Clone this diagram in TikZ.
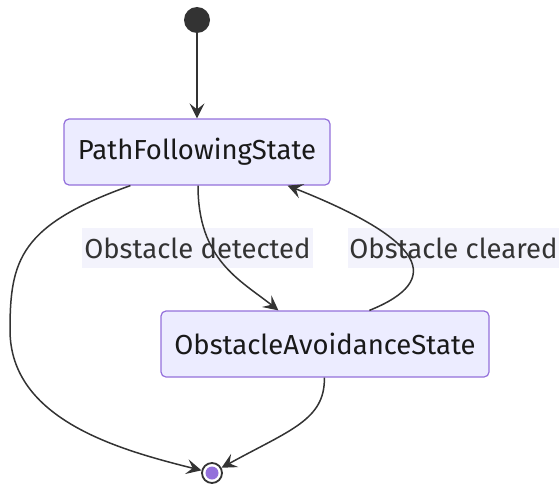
\documentclass[tikz,border=0pt]{standalone}
\usepackage{fontspec}
\setmainfont{Fira Sans}
\usepackage{xcolor}
\usetikzlibrary{arrows.meta,positioning,calc}

\definecolor{stfill}{HTML}{ECECFF}
\definecolor{stline}{HTML}{9370DB}
\definecolor{edgec}{HTML}{333333}
\definecolor{lblfill}{HTML}{F3F3FC}

\begin{document}
\begin{tikzpicture}[x=1pt,y=-1pt,font=\fontsize{27.5}{32}\selectfont,
  state/.style={draw=stline,fill=stfill,line width=1.2pt,rounded corners=5pt,
    minimum height=66pt,inner sep=0pt,text=black!90},
  lbl/.style={fill=lblfill,minimum height=40pt,inner sep=0pt,text=edgec},
  edge/.style={draw=edgec,line width=1.5pt,
    -{Stealth[length=15pt,width=15pt,inset=6pt]}}]
  \useasboundingbox (0,0) rectangle (559,487);
  % start and stop
  \node[circle,fill=edgec,minimum size=26pt,inner sep=0pt] (start) at (197,20) {};
  \node[circle,draw=edgec,line width=1.8pt,fill=white,minimum size=20pt,inner sep=0pt] (stop) at (212,473) {};
  \fill[stline] (stop) circle (6.5pt);
  % states
  \node[state,minimum width=266pt] (pfs) at (197,152) {PathFollowingState};
  \node[state,minimum width=328pt] (oas) at (325,344) {ObstacleAvoidanceState};
  % labels
  \node[lbl,minimum width=231pt] (det) at (197.5,248) {Obstacle detected};
  \node[lbl,minimum width=211pt] (clr) at (453.5,248) {Obstacle cleared};
  % transitions
  \draw[edge] (start) -- (pfs);
  \draw[edge] ($(pfs.south)+(1,0)$) .. controls (198,260) and (240,280) .. ($(oas.north west)+(118,0)$);
  \draw[edge] ($(oas.north west)+(209,0)$) .. controls (445,280) and (425,240) .. ($(pfs.south east)+(-43,0)$);
  \draw[edge] ($(pfs.south west)+(67,0)$) .. controls (20,225) and (10,260) .. (10,330)
    .. controls (10,420) and (120,450) .. (stop);
  \draw[edge] ($(oas.south west)+(164,0)$) .. controls (325,420) and (290,430) .. (stop);
\end{tikzpicture}
\end{document}
